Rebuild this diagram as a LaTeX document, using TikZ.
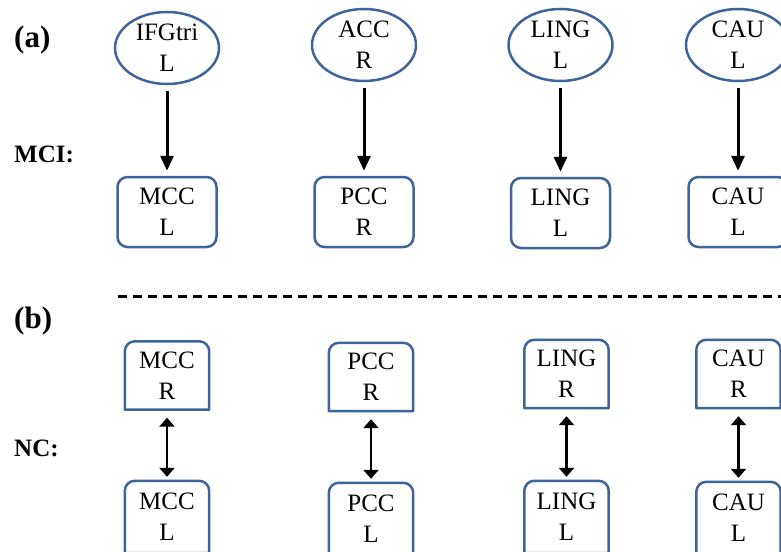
\documentclass[tikz,border=0pt]{standalone}
\usepackage{fontspec}
\setmainfont{Liberation Serif}
\usetikzlibrary{positioning,arrows.meta,shapes.geometric}
\definecolor{edgeblue}{RGB}{62,100,156}

\begin{document}
\begin{tikzpicture}[x=1pt, y=-1pt,
  every node/.style={font=\fontsize{25}{31}\selectfont},
  region/.style={ellipse, draw=edgeblue, line width=2.5pt, minimum width=104pt, minimum height=72pt, inner sep=0pt, align=center},
  rbox/.style={draw=edgeblue, line width=2.5pt, rounded corners=10pt, minimum width=99pt, minimum height=70pt, inner sep=0pt, align=center},
  tbox/.style={minimum width=84pt, minimum height=68pt, inner sep=0pt, align=center},
  tline/.style={draw=edgeblue, line width=2.5pt, line join=round},
  grp/.style={anchor=west, inner sep=0pt, font=\fontsize{25}{30}\selectfont\bfseries},
  tag/.style={grp, font=\fontsize{31}{36}\selectfont\bfseries},
  link/.style={-{Triangle[length=15pt,width=13pt]}, line width=3pt, shorten <=6pt, shorten >=5pt},
  both/.style={{Triangle[length=9pt,width=15pt]}-{Triangle[length=9pt,width=15pt]}, line width=2.7pt, shorten <=8pt, shorten >=4pt}]
  \useasboundingbox (0,0) rectangle (781,551);
  \clip (0,0) rectangle (781,551);

  % (a) MCI
  \node[tag] (lbla) at (14,40) {(a)};
  \node[grp] (mci) at (14,154) {MCI:};
  \node[region] (aifg) at (167,48) {IFGtri\\L};
  \node[region] (aacc) at (364,45) {ACC\\R};
  \node[region] (alingt) at (560.5,45) {LING\\L};
  \node[region] (acaut) at (738,45) {CAU\\L};
  \node[rbox] (amcc) at (167,212) {MCC\\L};
  \node[rbox] (apcc) at (364,212) {PCC\\R};
  \node[rbox] (alingb) at (560.5,213) {LING\\L};
  \node[rbox] (acaub) at (738,212) {CAU\\L};
  \draw[link] (aifg) -- (amcc);
  \draw[link] (aacc) -- (apcc);
  \draw[link] (alingt) -- (alingb);
  \draw[link] (acaut) -- (acaub);

  \coordinate (dashl) at (118,296);
  \coordinate (dashr) at (790,296);
  \draw[line width=3pt, dash pattern=on 9pt off 6pt] (dashl) -- (dashr);

  % (b) NC
  \node[tag] (lblb) at (14,321.5) {(b)};
  \node[grp] (nc) at (14,448) {NC:};
  \node[tbox] (bmccr) at (167,375.5) {MCC\\R};
  \node[tbox] (bpccr) at (371,377) {PCC\\R};
  \node[tbox] (blingr) at (566.5,374) {LING\\R};
  \node[tbox] (bcaur) at (738.5,374) {CAU\\R};
  \node[tbox, minimum height=72pt] (bmccl) at (167,517) {MCC\\L};
  \node[tbox, minimum height=72pt] (bpccl) at (371,519) {PCC\\L};
  \node[tbox, minimum height=72pt] (blingl) at (566.5,517) {LING\\L};
  \node[tbox, minimum height=72pt] (bcaul) at (738.5,518) {CAU\\L};
  \foreach \n in {bmccr,bpccr,blingr,bcaur,bmccl,bpccl,blingl,bcaul}
    \draw[tline] (\n.south west) [rounded corners=10pt] -- (\n.north west) -- (\n.north east) [sharp corners] -- (\n.south east) -- cycle;
  \draw[both] (bmccr) -- (bmccl);
  \draw[both] (bpccr) -- (bpccl);
  \draw[both] (blingr) -- (blingl);
  \draw[both] (bcaur) -- (bcaul);
\end{tikzpicture}
\end{document}
